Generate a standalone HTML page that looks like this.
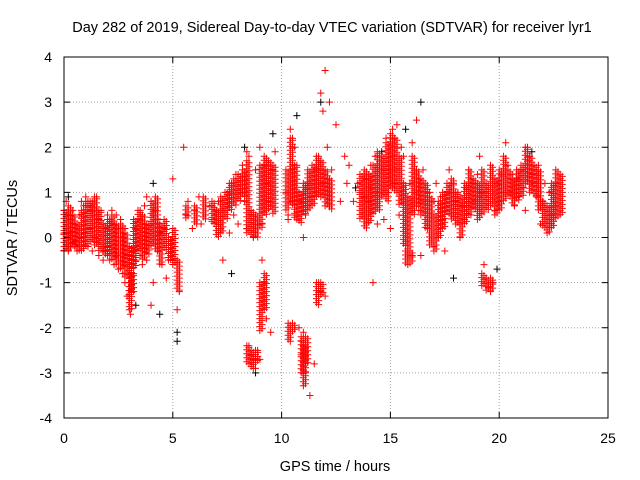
<!DOCTYPE html>
<html><head><meta charset="utf-8"><style>
html,body{margin:0;padding:0;background:#fff}
svg{display:block;font-family:"Liberation Sans",sans-serif}
</style></head><body>
<svg id="chart" width="640" height="480" viewBox="0 0 640 480">
<text x="332" y="32" font-size="14.5" text-anchor="middle">Day 282 of 2019, Sidereal Day-to-day VTEC variation (SDTVAR) for receiver lyr1</text>
<g id="grid"></g>
<g id="marks"></g>
<rect x="64" y="57" width="544" height="361" fill="none" stroke="#000" stroke-width="1"/>
<g id="axes"></g>
<text x="335" y="471" font-size="14.5" text-anchor="middle">GPS time / hours</text>
<text x="0" y="0" font-size="14.5" text-anchor="middle" transform="translate(17,238) rotate(-90)">SDTVAR / TECUs</text>
</svg>
<script>
const xTicks=[0,5,10,15,20,25];
const yTicks=[-4,-3,-2,-1,0,1,2,3,4];
// dense band envelopes (time, low, high) in TECU
const bandT=[0,0.2,0.4,0.6,0.8,1.0,1.2,1.4,1.6,1.8,2.0,2.2,2.4,2.6,2.8,3.0,3.2,3.4,3.6,3.8,4.0,4.2,4.4,4.6,4.8,5.0,5.2,5.6,6.0,6.4,6.8,7.0,7.2,7.4,7.6,7.8,8.0,8.2,8.4,8.6,8.8,9.0,9.2,9.4,9.6,10.2,10.4,10.6,10.8,11.0,11.2,11.4,11.6,11.8,12.0,12.2,13.6,13.8,14.0,14.2,14.4,14.6,14.8,15.0,15.2,15.4,15.6,15.8,16.0,16.2,16.4,16.6,16.8,17.0,17.2,17.4,17.6,17.8,18.0,18.2,18.4,18.6,18.8,19.0,19.2,19.4,19.6,19.8,20.0,20.2,20.4,20.6,20.8,21.0,21.2,21.4,21.6,21.8,22.0,22.2,22.4,22.6,22.8,
8.4,8.6,8.8,9.0,9.2,10.3,10.5,10.9,11.0,11.1,11.6,11.8,19.2,19.4,19.6,15.7,15.9,3.0,3.1];
const bandLo=[-0.3,-0.3,-0.2,-0.3,-0.3,-0.2,-0.1,-0.2,-0.3,-0.4,-0.4,-0.5,-0.6,-0.7,-0.9,-1.3,-0.7,-0.3,-0.5,-0.4,-0.2,-0.3,-0.6,-0.3,-0.5,-0.6,-1.2,0.4,0.3,0.4,0.3,0.0,0.1,0.4,0.6,0.7,0.8,0.9,0.1,0.0,0.0,0.2,0.5,0.6,0.5,0.6,0.7,0.4,0.3,0.5,0.6,0.7,0.9,0.9,0.7,0.6,0.4,0.2,0.3,0.5,0.6,0.9,0.8,1.1,1.0,0.7,-0.2,-0.5,0.5,0.7,0.5,0.2,-0.2,-0.3,0.0,0.2,0.5,0.4,0.3,0.0,0.3,0.5,0.6,0.4,0.5,0.6,0.7,0.5,0.6,0.8,0.9,0.7,0.8,0.9,1.2,1.0,0.9,0.6,0.2,0.1,0.2,0.4,0.5,
-2.8,-2.9,-2.8,-2.1,-1.6,-2.3,-2.1,-3.0,-3.3,-2.8,-1.5,-1.3,-1.1,-1.2,-1.2,-0.6,-0.6,-1.6,-1.2];
const bandHi=[0.6,0.7,0.5,0.3,0.6,0.8,0.8,0.9,0.6,0.3,0.4,0.5,0.3,0.3,0.1,-0.2,0.4,0.6,0.5,0.3,0.8,0.9,0.3,0.4,0.0,0.2,-0.5,0.7,0.7,0.9,0.8,0.6,0.9,1.0,1.2,1.3,1.4,1.5,1.7,0.6,0.5,1.6,1.8,1.7,1.6,1.5,2.2,1.6,1.0,1.2,1.5,1.6,1.8,1.7,1.5,1.3,1.4,1.5,1.4,1.6,1.9,1.8,2.1,2.3,2.2,1.8,1.2,0.9,1.8,1.5,1.3,1.2,0.9,0.5,0.8,1.0,1.2,1.3,1.0,0.9,1.2,1.5,1.3,1.2,1.5,1.2,1.6,1.3,1.5,1.8,1.5,1.3,1.5,1.6,2.0,1.8,1.6,1.5,0.8,0.7,1.2,1.5,1.4,
-2.4,-2.5,-2.5,-1.0,-0.8,-1.9,-1.9,-2.2,-2.4,-2.2,-1.0,-1.0,-0.8,-0.9,-0.9,-0.3,-0.3,-1.0,-0.8];
// red scattered points: time (hours) and value (TECU)
const redT=[0,0,0,0.1,0.1,0.1,0.2,0.2,0.2,0.3,0.3,0.3,0.4,0.4,0.5,0.5,0.6,0.6,0.7,0.7,0.8,0.8,0.9,0.9,1,1,1.1,1.1,1.2,1.2,1.3,1.3,1.4,1.4,1.5,1.5,1.6,1.6,1.7,1.7,1.8,1.8,1.9,1.9,2,2,2.1,2.1,2.2,2.2,2.3,2.3,2.4,2.4,2.5,2.5,2.6,2.6,2.7,2.7,2.8,2.8,2.9,2.9,3,3,3.05,3.1,3.1,3.2,3.2,3.3,3.3,3.4,3.4,3.5,3.5,3.6,3.6,3.7,3.8,3.8,3.9,4,4,4.1,4.1,4.2,4.3,4.3,4.4,4.5,4.6,4.7,4.8,5,5.1,5.2,5.3,5.5,5.6,5.7,5.9,6,6.2,6.3,6.5,6.7,6.8,7,7.1,7.2,7.3,7.4,7.5,7.6,7.7,7.8,7.9,8,8.1,8.2,8.3,8.4,8.4,8.5,8.5,8.6,8.6,8.7,8.7,8.8,8.8,8.9,9,9,9.1,9.1,9.2,9.2,9.3,9.3,9.4,9.5,9.6,9.7,10.2,10.3,10.3,10.4,10.4,10.5,10.5,10.6,10.6,10.7,10.8,10.8,10.9,10.9,11,11,11.1,11.1,11.2,11.3,11.4,11.5,11.6,11.6,11.7,11.7,11.8,11.8,11.9,11.9,12,12,12.1,12.2,12.3,12.5,12.7,12.9,13,13.1,13.3,13.5,13.6,13.8,13.9,14,14,14.1,14.2,14.3,14.4,14.5,14.6,14.7,14.8,14.9,15,15,15.1,15.1,15.2,15.2,15.3,15.3,15.4,15.5,15.6,15.7,15.8,15.9,16,16,16.1,16.2,16.3,16.4,16.5,16.6,16.7,16.8,16.9,17,17,17.1,17.2,17.3,17.4,17.5,17.6,17.7,17.8,17.9,18,18,18.1,18.2,18.3,18.4,18.5,18.6,18.7,18.8,18.9,19,19,19.1,19.2,19.3,19.4,19.5,19.6,19.7,19.8,19.9,20,20.1,20.2,20.3,20.4,20.5,20.6,20.7,20.8,20.9,21,21.1,21.2,21.3,21.4,21.5,21.6,21.7,21.8,21.9,22,22.1,22.2,22.3,22.4,22.5,22.6,22.7,22.8];
const redV=[0.6,0.1,-0.3,0.8,0.2,-0.2,0.5,0,-0.3,0.4,0.1,-0.2,0.6,-0.1,0.3,-0.2,0.2,-0.3,0.5,-0.1,0.8,0,0.7,-0.2,0.9,0.1,0.8,-0.2,0.6,0.2,0.8,-0.3,0.5,0,0.9,-0.1,0.4,-0.4,0.6,-0.2,0.3,-0.5,0.2,-0.3,0.5,-0.2,0.4,-0.5,0.6,-0.3,0.3,-0.6,0.5,-0.4,0.2,-0.7,0.4,-0.5,0,-0.8,0.2,-1.0,-0.4,-1.3,-0.6,-1.6,-1.7,-0.5,-1.2,-0.3,-0.8,0.2,-0.5,0.4,-0.2,0.6,-0.4,0.5,-0.6,0.7,0.9,-0.5,0.3,0.8,-1.5,0.5,-1.0,0.6,0.4,-0.3,0.1,-0.6,0.2,-0.9,-0.5,1.3,-0.5,-1.6,-1.2,2.0,0.5,0.8,0.2,0.6,0.9,0.3,0.5,0.7,0.4,0.6,0.8,0.2,-0.5,0.6,1.0,0.1,1.2,0.5,1.4,0.3,1.0,1.6,0.8,1.9,0.2,-2.4,1.8,-2.6,0.5,-2.7,0,-2.9,1.5,-2.5,-2.7,2.0,0.3,-0.5,1.6,-1.0,1.2,-1.8,0.8,-2.1,1.5,1.9,1.0,0.4,0.5,2.4,1.5,2.2,0.8,2.0,0.5,1.6,-2.0,0.8,-2.3,-2.6,0,-2.1,0.5,-3.0,1.2,-3.5,0.9,-2.8,1.5,1.0,-1.0,1.8,-1.2,3.2,1.2,2.8,-1.3,3.7,2.0,3.0,1.5,2.5,0.8,1.8,1.2,1.6,0.8,1.2,1.0,0.9,1.3,1.1,0.8,1.6,-1.0,1.8,0.3,1.0,1.5,0.4,2.2,1.0,1.5,0.2,1.8,2.4,1.2,2.2,1.5,2.5,0.5,2.0,1.8,-0.3,-0.6,1.2,-0.4,2.1,1.0,2.6,0.6,-0.4,1.5,0.8,0.2,1.0,0.5,-0.2,0.8,1.2,0,0.9,0.4,-0.3,1.0,1.5,0.5,1.2,0.3,0.8,1.0,0,0.7,0.4,1.1,1.5,0.5,1.2,0.8,1.4,0.9,1.8,1.0,-0.6,-0.9,-1.1,-1.2,-1.0,0.6,1.2,0.8,1.4,1.0,2.1,1.6,1.0,1.4,0.7,1.3,0.9,1.5,1.1,0.6,2.0,1.8,1.4,1.2,0.9,1.6,0.3,0.8,1.2,0.1,1.0,0.5,0.7,1.2];
// black (sparse) series
const blkT=[0.2,1.2,2.6,3.3,4.1,4.4,5.2,5.2,6.8,7.7,8.3,8.8,9.6,10.7,11.2,11.8,13.4,14.6,15.7,16.4,17.9,19.9,21.5,22.6];
const blkV=[0.9,0.7,0.3,-1.5,1.2,-1.7,-2.1,-2.3,0.7,-0.8,2.0,-3.0,2.3,2.7,1.1,3.0,1.1,1.9,2.4,3.0,-0.9,-0.7,1.9,0.7];

const X0=64,X1=608,Y0=418,Y1=57;
const sx=t=>X0+(t-0)/(25-0)*(X1-X0);
const sy=v=>Y0-(v+4)/8*(Y0-Y1);
const NS="http://www.w3.org/2000/svg";
const grid=document.getElementById('grid'),axes=document.getElementById('axes'),marks=document.getElementById('marks');
function mk(tag,attrs,parent){const e=document.createElementNS(NS,tag);for(const k in attrs)e.setAttribute(k,attrs[k]);parent.appendChild(e);return e;}
xTicks.forEach(t=>{const x=sx(t);
 if(t>0&&t<25){const g=mk('line',{x1:x,x2:x,y1:Y0,y2:Y1,stroke:'#a0a0a0','stroke-dasharray':'1,2'},grid);
 
 }
 const a=mk('line',{x1:x,x2:x,y1:Y0,y2:Y0-6,stroke:'#000'},axes);
 
 
 const b=mk('line',{x1:x,x2:x,y1:Y1,y2:Y1+6,stroke:'#000'},axes);
 
 
 const l=mk('text',{x:x,y:443,'font-size':'14','text-anchor':'middle'},axes);l.textContent=t;
 
 });
yTicks.forEach(v=>{const y=sy(v);
 if(v>-4&&v<4){const g=mk('line',{x1:X0,x2:X1,y1:y,y2:y,stroke:'#a0a0a0','stroke-dasharray':'1,2'},grid);
 
 }
 const a=mk('line',{x1:X0,x2:X0+6,y1:y,y2:y,stroke:'#000'},axes);
 
 
 const b=mk('line',{x1:X1,x2:X1-6,y1:y,y2:y,stroke:'#000'},axes);
 
 
 const l=mk('text',{x:52,y:y+5,'font-size':'14','text-anchor':'end'},axes);l.textContent=v;
 
 });
function plusXY(x,y,color,name){
 const p=mk('path',{d:`M${x-3.5},${y}h7M${x},${y-3.5}v7`,stroke:color,'stroke-width':'1',fill:'none'},marks);
 
 }
function plus(t,v,color,name){plusXY(sx(t),sy(v),color,name);}
blkT.forEach((t,i)=>plus(t,blkV[i],'#000','black-point'));
bandT.forEach((t,i)=>{const yTop=sy(bandHi[i]),yBot=sy(bandLo[i]);
 [0,0.1].forEach((dt,k)=>{const x=sx(t+dt);
  for(let y=yTop+(k?2:0);y<=yBot+0.01;y+=4)plusXY(x,y,'#ff0000','band-point');});});
redT.forEach((t,i)=>plus(t,redV[i],'#ff0000','red-point'));
</script>
</body></html>
